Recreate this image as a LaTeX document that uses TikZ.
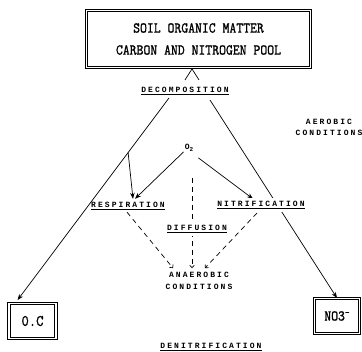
\documentclass[tikz,border=0pt]{standalone}
\usepackage{fontspec}
\usetikzlibrary{arrows.meta,calc}
\newfontfamily\lblfont{Liberation Mono}[LetterSpace=26]
\newfontfamily\boxfont{Latin Modern Mono}[FakeStretch=0.89,FakeBold=1.2]
\newcommand\ulbox[1]{\setbox0\hbox{#1}\rlap{\rule[-2.6pt]{\wd0}{1pt}}\box0}
\tikzset{
  frame/.style={draw, line width=0.9pt, double=white, double distance=1.5pt, inner sep=0pt},
  lbl/.style={font=\lblfont\bfseries\fontsize{8}{11}\selectfont, inner sep=1pt},
  conn/.style={line width=0.7pt},
  arr/.style={conn, -{Stealth[length=6pt,width=4.5pt]}},
  darr/.style={conn, dash pattern=on 5pt off 4pt, -{To[length=3pt,width=5pt]}}
}
\begin{document}
\begin{tikzpicture}[x=1pt,y=-1pt]
\useasboundingbox (0,0) rectangle (362,352);
% boxes
\node[frame, minimum width=224pt, minimum height=57pt, align=center,
      font=\boxfont\fontsize{15}{22}\selectfont] (pool) at (198.5,39)
      {SOIL ORGANIC MATTER\\CARBON AND NITROGEN POOL};
\node[frame, minimum width=47pt, minimum height=35pt,
      font=\boxfont\fontsize{16}{18}\selectfont] (oc) at (32.5,321) {0.C};
\node[frame, minimum width=45pt, minimum height=35pt,
      font=\boxfont\fontsize{15}{17}\selectfont] (no3) at (337,316) {NO3\raisebox{5pt}{\fontsize{10}{10}\selectfont -}};
% labels
\node[lbl] (decomp) at (185,91) {\ulbox{DECOMPOSITION}};
\node[lbl, align=center] (aer) at (329,127.5) {AEROBIC\\CONDITIONS};
\node[lbl] (o2) at (189,148) {O\raisebox{-2pt}{\fontsize{6}{6}\selectfont 2}};
\node[lbl, align=center, font=\lblfont\bfseries\fontsize{8}{12}\selectfont] (anaer) at (199,281) {ANAEROBIC\\CONDITIONS};
\node[lbl] (denit) at (211,347) {\ulbox{DENITRIFICATION}};
% coordinates
\coordinate (dL) at (169,98);
\coordinate (dR) at (210,100);
\coordinate (ocTip) at ($(oc.north west)+(9,-3)$);
\coordinate (br) at ($(dL)!0.27!(ocTip)$);
% caret under the pool box
\draw[conn] ($(pool.south)+(-13.5,12)$) -- ($(pool.south)+(-6.5,1)$) -- ($(pool.south)+(0.5,12)$);
% main lines
\draw[arr] (dL) -- (ocTip);
\draw[arr] (dR) -- (no3.north);
% respiration / nitrification
\node[lbl] (resp) at (128,206) {\ulbox{RESPIRATION}};
\draw[arr] (br) -- ($(resp.north)+(5,-2)$);
\draw[arr] ($(o2.south west)+(0,-1)$) -- ($(resp.north)+(7,-2)$);
\draw[arr] ($(o2.south east)+(4,5)$) -- ($(resp.north -| 253,0)+(0,-2)$);
% dashed
\draw[darr] (192,178) -- ($(anaer.north -| 192,0)+(0,-3)$);
\draw[darr] ($(resp.south)+(-1,1)$) -- ($(anaer.north)+(-26,-3)$);
\draw[darr] (257,213) -- ($(anaer.north)+(6,-3)$);
\node[lbl, fill=white, inner sep=3pt] (nitr) at (261,205) {\ulbox{NITRIFICATION}};
\node[lbl, fill=white, inner sep=3pt] (diff) at (197,229) {\ulbox{DIFFUSION}};
\end{tikzpicture}
\end{document}
